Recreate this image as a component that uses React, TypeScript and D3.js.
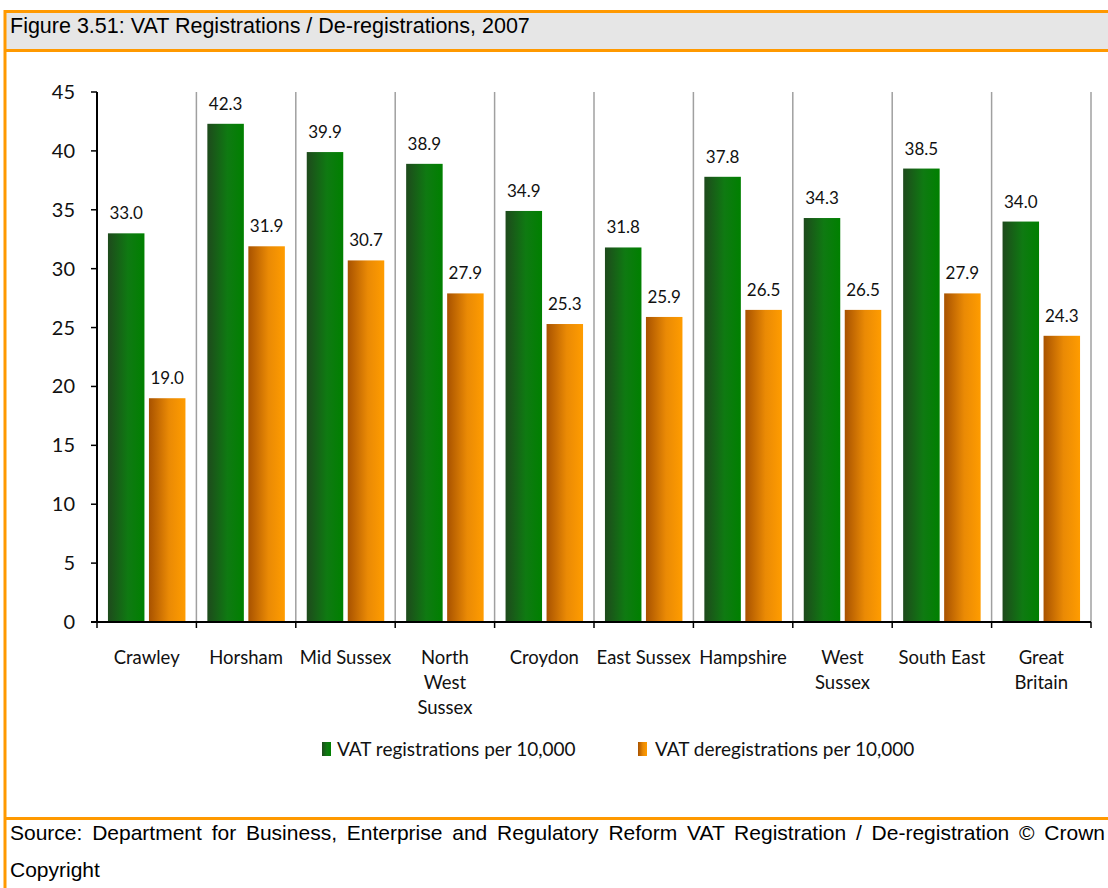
import React, { useLayoutEffect, useRef } from "react";
import * as d3 from "d3";

const categories = ["Crawley", "Horsham", "Mid Sussex", "North\nWest\nSussex", "Croydon", "East Sussex", "Hampshire", "West\nSussex", "South East", "Great\nBritain"];
const registrations = [33.0, 42.3, 39.9, 38.9, 34.9, 31.8, 37.8, 34.3, 38.5, 34.0];
const deregistrations = [19.0, 31.9, 30.7, 27.9, 25.3, 25.9, 26.5, 26.5, 27.9, 24.3];
const yTicks = [0, 5, 10, 15, 20, 25, 30, 35, 40, 45];
const seriesNames = ["VAT registrations per 10,000", "VAT deregistrations per 10,000"];
const titleText = "Figure 3.51: VAT Registrations / De-registrations, 2007";
const sourceLine1 = "Source: Department for Business, Enterprise and Regulatory Reform VAT Registration / De-registration © Crown";
const sourceLine2 = "Copyright";

const W = 1108, H = 888;
const plot = { left: 97, right: 1091, top: 92, bottom: 622 };
const labelFont = "Lato, 'Open Sans', sans-serif";
const arial = "'Liberation Sans', Arial, sans-serif";

export default function App() {
  const srcRef = useRef<SVGTextElement>(null);
  useLayoutEffect(() => {
    const el = srcRef.current;
    if (!el) return;
    el.setAttribute("word-spacing", "0");
    const len = el.getComputedTextLength();
    const spaces = sourceLine1.split(" ").length - 1;
    const target = 1095;
    if (len < target && spaces > 0) el.setAttribute("word-spacing", String((target - len) / spaces));
  }, []);

  const x = d3.scaleBand<number>().domain(d3.range(categories.length)).range([plot.left, plot.right]).paddingInner(0).paddingOuter(0);
  const y = d3.scaleLinear().domain([0, 45]).range([plot.bottom, plot.top]);
  const step = x.bandwidth();
  const barW = 36.5;
  const gap = 4.5;
  const off = (step - 2 * barW - gap) / 2;

  return (
    <div style={{ position: "absolute", left: 0, top: 0 }}>
      <svg width={W} height={H} style={{ display: "block", background: "#fff" }}>
        <defs>
          <linearGradient id="gGreen" x1="0" x2="1" y1="0" y2="0">
            <stop offset="0" stopColor="#1e4a1c" />
            <stop offset="0.55" stopColor="#0f7a12" />
            <stop offset="1" stopColor="#008000" />
          </linearGradient>
          <linearGradient id="gOrange" x1="0" x2="1" y1="0" y2="0">
            <stop offset="0" stopColor="#a85200" />
            <stop offset="0.55" stopColor="#ea8a05" />
            <stop offset="1" stopColor="#ff9c00" />
          </linearGradient>
        </defs>
        {/* frame */}
        <rect x={5} y={12} width={W - 5} height={38} fill="#e6e6e6" />
        <line x1={4} x2={W} y1={11.5} y2={11.5} stroke="#ff9900" strokeWidth={3} />
        <line x1={4} x2={W} y1={50.5} y2={50.5} stroke="#ff9900" strokeWidth={3} />
        <line x1={5} x2={5} y1={10} y2={H} stroke="#ff9900" strokeWidth={3} />
        <line x1={4} x2={W} y1={818.5} y2={818.5} stroke="#ff9900" strokeWidth={3} />
        <text x={10} y={33} fontFamily={arial} fontSize={21.5} fill="#000">{titleText}</text>

        {/* gridlines (category separators) */}
        {d3.range(1, categories.length + 1).map((i) => {
          const gx = plot.left + i * step;
          return <line key={"g" + i} x1={gx} x2={gx} y1={plot.top} y2={plot.bottom} stroke="#a0a0a0" strokeWidth={1.5} />;
        })}

        {/* bars */}
        {categories.map((c, i) => {
          const x0 = (x(i) as number) + off;
          const x1 = x0 + barW + gap;
          return (
            <g key={"b" + i}>
              <rect x={x0} y={y(registrations[i])} width={barW} height={y(0) - y(registrations[i])} fill="url(#gGreen)" />
              <rect x={x1} y={y(deregistrations[i])} width={barW} height={y(0) - y(deregistrations[i])} fill="url(#gOrange)" />
              <text x={x0 + barW / 2} y={y(registrations[i]) - 14} textAnchor="middle" fontFamily={labelFont} fontSize={17} fill="#111">{registrations[i].toFixed(1)}</text>
              <text x={x1 + barW / 2} y={y(deregistrations[i]) - 14} textAnchor="middle" fontFamily={labelFont} fontSize={17} fill="#111">{deregistrations[i].toFixed(1)}</text>
            </g>
          );
        })}

        {/* y axis */}
        <line x1={plot.left} x2={plot.left} y1={plot.top} y2={plot.bottom} stroke="#000" strokeWidth={2} />
        {yTicks.map((t) => (
          <g key={"y" + t}>
            <line x1={plot.left - 6} x2={plot.left} y1={y(t)} y2={y(t)} stroke="#000" strokeWidth={1.5} />
            <text x={75} y={y(t) + 7} textAnchor="end" fontFamily={labelFont} fontSize={20} fill="#111">{t}</text>
          </g>
        ))}

        {/* x axis */}
        <line x1={plot.left - 6} x2={plot.right} y1={plot.bottom} y2={plot.bottom} stroke="#000" strokeWidth={2} />
        {d3.range(0, categories.length + 1).map((i) => {
          const tx = plot.left + i * step;
          return <line key={"t" + i} x1={tx} x2={tx} y1={plot.bottom} y2={plot.bottom + 6} stroke="#000" strokeWidth={1.5} />;
        })}
        {categories.map((c, i) => (
          <text key={"c" + i} x={(x(i) as number) + step / 2} y={664} textAnchor="middle" fontFamily={labelFont} fontSize={18.5} fill="#111">
            {c.split("\n").map((ln, j) => (
              <tspan key={j} x={(x(i) as number) + step / 2} dy={j === 0 ? 0 : 25}>{ln}</tspan>
            ))}
          </text>
        ))}

        {/* legend */}
        <rect x={322} y={742} width={9} height={14} fill="url(#gGreen)" />
        <text x={337} y={756} fontFamily={labelFont} fontSize={19} fill="#111">{seriesNames[0]}</text>
        <rect x={638} y={742} width={9} height={14} fill="url(#gOrange)" />
        <text x={655} y={756} fontFamily={labelFont} fontSize={19} fill="#111">{seriesNames[1]}</text>

        {/* source */}
        <text ref={srcRef} x={10} y={840} fontFamily={arial} fontSize={21} fill="#000">{sourceLine1}</text>
        <text x={10} y={877} fontFamily={arial} fontSize={21} fill="#000">{sourceLine2}</text>
      </svg>
    </div>
  );
}
